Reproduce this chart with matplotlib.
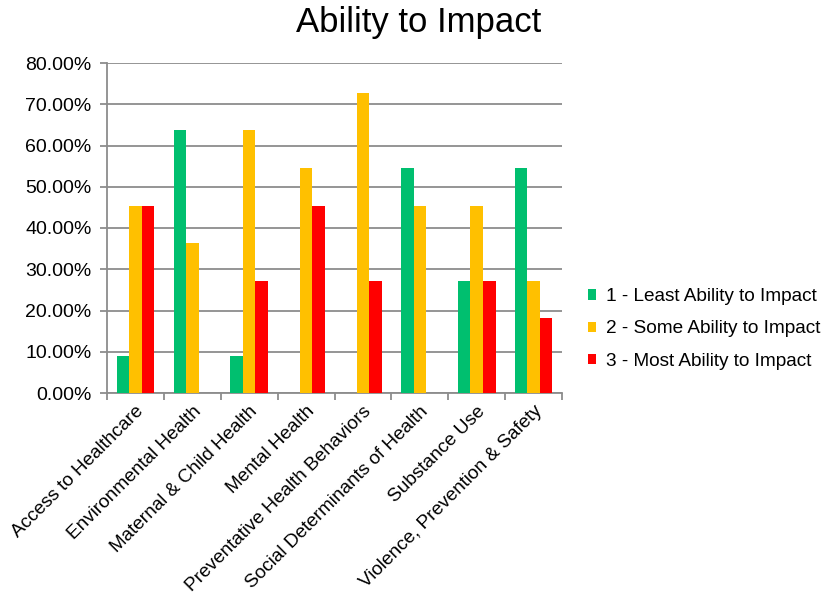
import matplotlib.pyplot as plt
import numpy as np
from matplotlib.ticker import PercentFormatter, FixedLocator

plt.rcParams['font.family'] = ['Liberation Sans', 'DejaVu Sans']

categories = ['Access to Healthcare', 'Environmental Health', 'Maternal & Child Health',
              'Mental Health', 'Preventative Health Behaviors',
              'Social Determinants of Health', 'Substance Use',
              'Violence, Prevention & Safety']
least = [9.09, 63.64, 9.09, 0.0, 0.0, 54.55, 27.27, 54.55]
some = [45.45, 36.36, 63.64, 54.55, 72.73, 45.45, 45.45, 27.27]
most = [45.45, 0.0, 27.27, 45.45, 27.27, 0.0, 27.27, 18.18]
series_names = ['1 - Least Ability to Impact', '2 - Some Ability to Impact',
                '3 - Most Ability to Impact']
colors = ['#00BF6F', '#FFC000', '#FF0000']

fig = plt.figure(figsize=(8.29, 6), dpi=100)
ax = fig.add_axes([0.129, 0.345, 0.549, 0.55])

x = np.arange(len(categories))
w = 0.22
for i, (vals, name, c) in enumerate(zip([least, some, most], series_names, colors)):
    ax.bar(x + (i - 1) * w, vals, width=w, color=c, label=name, zorder=3)

ax.set_xlim(-0.5, len(categories) - 0.5)
ax.set_ylim(0, 80)
ax.set_yticks(np.arange(0, 81, 10))
ax.yaxis.set_major_formatter(PercentFormatter(decimals=2))
ax.grid(axis='y', color='#8c8c8c', linewidth=1.3, zorder=0)

ax.set_xticks(x)
ax.set_xticklabels(categories, rotation=45, ha='right', rotation_mode='anchor', fontsize=13.7)
ax.tick_params(axis='x', length=0, pad=7)
ax.xaxis.set_minor_locator(FixedLocator(np.arange(-0.5, len(categories), 1)))
ax.tick_params(axis='x', which='minor', length=5, color='#8c8c8c', width=1.3)
ax.tick_params(axis='y', length=5, color='#8c8c8c', width=1.3, labelsize=14, pad=6)

for s in ['top', 'right']:
    ax.spines[s].set_visible(False)
for s in ['left', 'bottom']:
    ax.spines[s].set_color('#8c8c8c')
    ax.spines[s].set_linewidth(1.3)

fig.text(419 / 829, 1 - 32 / 600, 'Ability to Impact', fontsize=25,
         ha='center', va='baseline')

ax.legend(loc='center left', bbox_to_anchor=(1.04, 0.194), frameon=False,
          fontsize=13.7, handlelength=0.45, handleheight=0.45, handletextpad=0.5,
          labelspacing=0.8, borderaxespad=0)

fig.savefig('out.png', dpi=100)
